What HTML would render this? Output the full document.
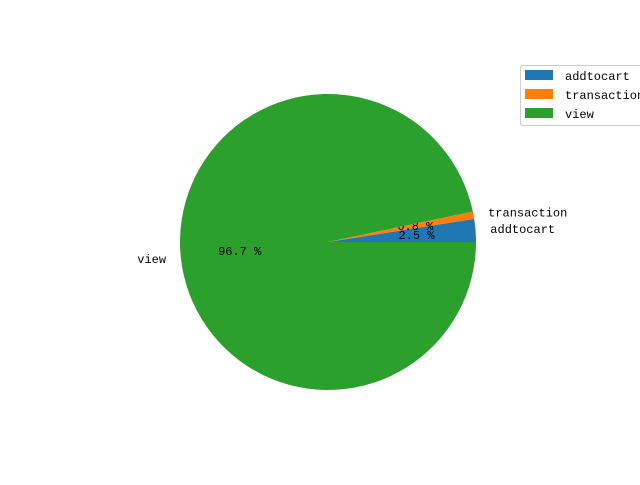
<!DOCTYPE html>
<html><head><meta charset="utf-8"><style>
body{margin:0;background:#fff}
svg text{font-family:"Liberation Mono","Noto Sans CJK SC",monospace;font-size:12px;fill:#000}
</style></head><body>
<svg id="chart" width="640" height="480">
<rect width="640" height="480" fill="#fff"/>
<g id="slices"></g>
<g id="legend">
<rect x="520.5" y="65.5" width="125" height="60" rx="2" fill="#fff" stroke="#ccc"/>
</g>
</svg>
<script>
const categories=["addtocart","transaction","view"];
const values=[2.5,0.8,96.7];
const colors=["#1f77b4","#ff7f0e","#2ca02c"];
const cx=328,cy=242,r=148;
const ns="http://www.w3.org/2000/svg";
const g=document.getElementById('slices');
const total=values.reduce((a,b)=>a+b,0);
let a0=0;
function mk(t,attrs){const e=document.createElementNS(ns,t);for(const k in attrs)e.setAttribute(k,attrs[k]);return e;}
values.forEach((v,i)=>{
  const a1=a0+v/total*2*Math.PI;
  const x0=cx+r*Math.cos(a0),y0=cy-r*Math.sin(a0),x1=cx+r*Math.cos(a1),y1=cy-r*Math.sin(a1);
  const large=(a1-a0)>Math.PI?1:0;
  const p=mk('path',{d:`M${cx},${cy}L${x0},${y0}A${r},${r} 0 ${large} 0 ${x1},${y1}Z`,fill:colors[i]});
  
  
  g.appendChild(p);
  const am=(a0+a1)/2,c=Math.cos(am),s=Math.sin(am);
  const lt=mk('text',{x:cx+1.1*r*c,y:cy-1.1*r*s+4,'text-anchor':c>=0?'start':'end'});
  lt.textContent=categories[i];
  
  
  g.appendChild(lt);
  const pt=mk('text',{x:cx+0.6*r*c,y:cy-0.6*r*s+4,'text-anchor':'middle'});
  pt.textContent=(v/total*100).toFixed(1)+' %';
  
  
  g.appendChild(pt);
  a0=a1;
});
const lg=document.getElementById('legend');
categories.forEach((c,i)=>{
  const y=70+i*19;
  const rc=mk('rect',{x:525,y:y,width:28,height:10,fill:colors[i]});
  
  
  lg.appendChild(rc);
  const t=mk('text',{x:565,y:y+10});
  t.textContent=c;
  
  
  lg.appendChild(t);
});
</script>
</body></html>
